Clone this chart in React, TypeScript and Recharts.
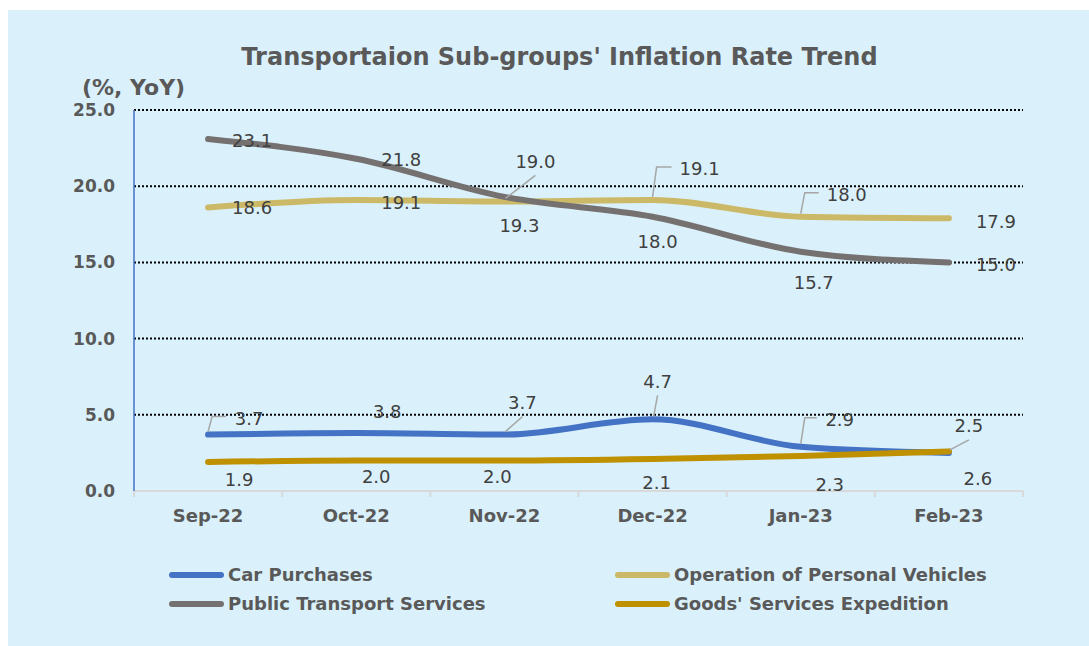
import React from 'react';
import { ComposedChart, Line, XAxis, YAxis, CartesianGrid, Legend, LabelList } from 'recharts';

const months = ['Sep-22', 'Oct-22', 'Nov-22', 'Dec-22', 'Jan-23', 'Feb-23'];
const carPurchases = [3.7, 3.8, 3.7, 4.7, 2.9, 2.5];
const personalVehicles = [18.6, 19.1, 19.0, 19.1, 18.0, 17.9];
const publicTransport = [23.1, 21.8, 19.3, 18.0, 15.7, 15.0];
const goodsExpedition = [1.9, 2.0, 2.0, 2.1, 2.3, 2.6];
const yTicks = [0, 5, 10, 15, 20, 25];
const seriesOrder = ['Car Purchases', 'Operation of Personal Vehicles', 'Public Transport Services', "Goods' Services Expedition"];

// label offsets from the point: [dx, dy, leader] (0 none, 1 straight, 2 elbow)
const carLabelPos = [[41, -16, 2], [31, -22, 0], [18, -32, 1], [5, -38, 1], [39, -27, 2], [20, -27, 1]];
const vehicleLabelPos = [[44, 0, 0], [45, 3, 0], [31, -40, 1], [47, -31, 2], [46, -22, 2], [47, 3, 0]];
const publicLabelPos = [[44, 2, 0], [45, 1, 0], [15, 29, 0], [5, 25, 0], [13, 31, 0], [47, 2, 0]];
const goodsLabelPos = [[31, 17, 0], [20, 16, 0], [-7, 16, 0], [4, 24, 0], [29, 29, 0], [29, 27, 0]];

const data = months.map((m, i) => ({
  month: m,
  car: carPurchases[i],
  vehicles: personalVehicles[i],
  publicT: publicTransport[i],
  goods: goodsExpedition[i],
}));

const FONT = '"DejaVu Sans", Verdana, sans-serif';
const GRAY = '#595959';

const makeLabel = (pos: number[][]) => (props: any) => {
  const { x, y, value, index } = props;
  const [dx, dy, leader] = pos[index];
  const text = Number(value).toFixed(1);
  const lx = x + dx;
  const ly = y + dy;
  const halfW = text.length * 5;
  let path = '';
  if (leader === 1) path = `M${x + 1},${y - 3} L${lx},${ly + 14}`;
  if (leader === 2) path = `M${x},${y - 3} L${x + 4},${ly - 2} L${lx - halfW - 8},${ly - 2}`;
  return (
    <g>
      {path && <path d={path} stroke="#A6A6A6" strokeWidth={1.5} fill="none" />}
      <text x={lx} y={ly} dy={6.5} textAnchor="middle" fontFamily={FONT} fontSize={18} fill="#404040">
        {text}
      </text>
    </g>
  );
};

const XTick = (props: any) => {
  const { x, y, payload, index, visibleTicksCount, width } = props;
  const half = payload.offset ? payload.offset : width / visibleTicksCount / 2;
  const axisY = y - 18;
  return (
    <g>
      <line x1={x - half} x2={x - half} y1={axisY} y2={axisY + 6} stroke="#D9D9D9" strokeWidth={2} />
      {index === visibleTicksCount - 1 && (
        <line x1={x + half} x2={x + half} y1={axisY} y2={axisY + 6} stroke="#D9D9D9" strokeWidth={2} />
      )}
      <text x={x} y={y} dy="0.71em" textAnchor="middle" fontFamily={FONT} fontWeight="bold" fontSize={18} fill={GRAY}>
        {payload.value}
      </text>
    </g>
  );
};

const renderLegend = (props: any) => {
  const payload = [...props.payload].sort(
    (a: any, b: any) => seriesOrder.indexOf(a.value) - seriesOrder.indexOf(b.value)
  );
  return (
    <div style={{ display: 'grid', gridTemplateColumns: '446px 446px', fontFamily: FONT }}>
      {payload.map((entry: any) => (
        <div key={entry.value} style={{ display: 'flex', alignItems: 'center', height: 29 }}>
          <span style={{ display: 'inline-block', width: 55, height: 6, borderRadius: 3, background: entry.color, marginRight: 4 }} />
          <span style={{ fontWeight: 'bold', fontSize: 18, color: GRAY }}>{entry.value}</span>
        </div>
      ))}
    </div>
  );
};

export default function App() {
  return (
    <div style={{ position: 'absolute', left: 8, top: 10, width: 1081, height: 636, background: '#DAF1FB', overflow: 'hidden' }}>
      <div style={{ position: 'absolute', left: 0, width: 1103, top: 32, textAlign: 'center', fontFamily: FONT, fontWeight: 'bold', fontSize: 24, color: GRAY, lineHeight: '30px' }}>
        Transportaion Sub-groups' Inflation Rate Trend
      </div>
      <div style={{ position: 'absolute', left: 74, top: 67, fontFamily: FONT, fontWeight: 'bold', fontSize: 22, color: GRAY, lineHeight: '22px' }}>
        (%, YoY)
      </div>
      <ComposedChart width={1081} height={636} data={data} margin={{ top: 100, right: 66, left: 0, bottom: 125 }}>
        <CartesianGrid horizontal vertical={false} horizontalValues={[5, 10, 15, 20, 25]} stroke="#000" strokeDasharray="2 2" strokeWidth={2} />
        <XAxis
          dataKey="month"
          scale="band"
          height={30}
          tickLine={false}
          tickSize={6}
          tickMargin={12}
          axisLine={{ stroke: '#D9D9D9', strokeWidth: 2 }}
          tick={<XTick />}
          interval={0}
        />
        <YAxis
          width={126}
          domain={[0, 25]}
          ticks={yTicks}
          tickFormatter={(v: number) => v.toFixed(1)}
          tickLine={false}
          tickMargin={13}
          axisLine={{ stroke: '#4472C4', strokeWidth: 1.5 }}
          tick={{ fontFamily: FONT, fontWeight: 'bold', fontSize: 17, fill: GRAY }}
        />
        <Legend
          layout="vertical"
          align="center"
          verticalAlign="middle"
          content={renderLegend}
          wrapperStyle={{ position: 'absolute', left: 161, top: 550, width: 900 }}
        />
        <Line name="Car Purchases" dataKey="car" type="monotone" stroke="#4472C4" strokeWidth={6} strokeLinecap="round" dot={false} isAnimationActive={false}>
          <LabelList dataKey="car" content={makeLabel(carLabelPos)} />
        </Line>
        <Line name="Operation of Personal Vehicles" dataKey="vehicles" type="monotone" stroke="#CCB967" strokeWidth={6} strokeLinecap="round" dot={false} isAnimationActive={false}>
          <LabelList dataKey="vehicles" content={makeLabel(vehicleLabelPos)} />
        </Line>
        <Line name="Public Transport Services" dataKey="publicT" type="monotone" stroke="#767171" strokeWidth={6} strokeLinecap="round" dot={false} isAnimationActive={false}>
          <LabelList dataKey="publicT" content={makeLabel(publicLabelPos)} />
        </Line>
        <Line name="Goods' Services Expedition" dataKey="goods" type="monotone" stroke="#BF9000" strokeWidth={6} strokeLinecap="round" dot={false} isAnimationActive={false}>
          <LabelList dataKey="goods" content={makeLabel(goodsLabelPos)} />
        </Line>
      </ComposedChart>
    </div>
  );
}
